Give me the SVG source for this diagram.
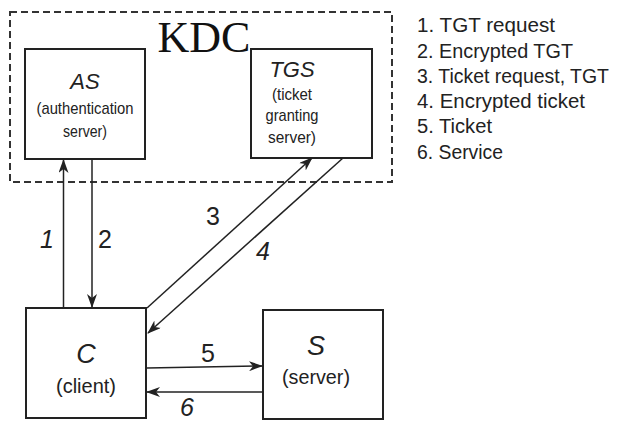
<svg xmlns="http://www.w3.org/2000/svg" width="617" height="432" viewBox="0 0 617 432">
  <style>
    .box { fill: #fff; stroke: #222; stroke-width: 2; }
    .kdc { fill: none; stroke: #333; stroke-width: 2; stroke-dasharray: 7 4; }
    .link { fill: none; stroke: #222; stroke-width: 1.5; marker-end: url(#head); }
    .t { font-family: "Liberation Sans", Arial, sans-serif; fill: #222; }
    .name { font-style: italic; text-anchor: middle; }
    .sub { text-anchor: middle; }
    .num { font-size: 25px; text-anchor: middle; }
    .leg { font-size: 19.5px; }
  </style>
  <defs>
    <marker id="head" viewBox="0 0 14 10" refX="13" refY="5" markerWidth="14" markerHeight="10" markerUnits="userSpaceOnUse" orient="auto">
      <path d="M0,0 L14,5 L0,10 L4,5 Z" fill="#222"/>
    </marker>
  </defs>

  <!-- Key distribution centre boundary -->
  <g id="kdc">
    <rect class="kdc" x="10" y="12" width="382" height="170"/>
    <text x="204" y="52" font-family="Liberation Serif, Times New Roman, serif" font-size="44" text-anchor="middle" fill="#111">KDC</text>
  </g>

  <g id="as">
    <rect class="box" x="25" y="49" width="120" height="110"/>
    <text class="t name" x="85" y="89" font-size="22">AS</text>
    <text class="t sub" x="85" y="114" font-size="17" textLength="97" lengthAdjust="spacingAndGlyphs">(authentication</text>
    <text class="t sub" x="85" y="137" font-size="17" textLength="44" lengthAdjust="spacingAndGlyphs">server)</text>
  </g>

  <g id="tgs">
    <rect class="box" x="251" y="49" width="121" height="109"/>
    <text class="t name" x="292" y="77" font-size="22">TGS</text>
    <text class="t sub" x="292" y="100" font-size="17" textLength="40" lengthAdjust="spacingAndGlyphs">(ticket</text>
    <text class="t sub" x="292" y="121" font-size="17" textLength="53" lengthAdjust="spacingAndGlyphs">granting</text>
    <text class="t sub" x="292" y="143" font-size="17" textLength="48" lengthAdjust="spacingAndGlyphs">server)</text>
  </g>

  <g id="client">
    <rect class="box" x="26" y="308" width="120" height="110"/>
    <text class="t name" x="86" y="363" font-size="27">C</text>
    <text class="t sub" x="86" y="393" font-size="21" textLength="60" lengthAdjust="spacingAndGlyphs">(client)</text>
  </g>

  <g id="server">
    <rect class="box" x="263" y="310" width="120" height="109"/>
    <text class="t name" x="316" y="355" font-size="27">S</text>
    <text class="t sub" x="316" y="384" font-size="21" textLength="68" lengthAdjust="spacingAndGlyphs">(server)</text>
  </g>

  <!-- Message flows -->
  <g id="connectors">
    <line class="link" x1="63.5" y1="308" x2="63.5" y2="160"/>
    <line class="link" x1="92" y1="159" x2="92" y2="307"/>
    <line class="link" x1="147" y1="308" x2="312" y2="158"/>
    <line class="link" x1="343" y1="158" x2="148" y2="333"/>
    <line class="link" x1="147" y1="368" x2="262" y2="366"/>
    <line class="link" x1="263" y1="392" x2="147" y2="392"/>
  </g>

  <g id="flow-labels">
    <text class="t num" x="47" y="248" font-style="italic">1</text>
    <text class="t num" x="105" y="248">2</text>
    <text class="t num" x="213" y="225">3</text>
    <text class="t num" x="263" y="260" font-style="italic">4</text>
    <text class="t num" x="208" y="362">5</text>
    <text class="t num" x="187" y="416" font-style="italic">6</text>
  </g>

  <g id="legend" class="t leg">
    <text x="417" y="32" textLength="138" lengthAdjust="spacingAndGlyphs">1. TGT  request</text>
    <text x="417" y="58" textLength="156" lengthAdjust="spacingAndGlyphs">2. Encrypted TGT</text>
    <text x="417" y="83" textLength="192" lengthAdjust="spacingAndGlyphs">3. Ticket request, TGT</text>
    <text x="417" y="108" textLength="168" lengthAdjust="spacingAndGlyphs">4. Encrypted  ticket</text>
    <text x="417" y="133" textLength="75" lengthAdjust="spacingAndGlyphs">5. Ticket</text>
    <text x="417" y="159" textLength="86" lengthAdjust="spacingAndGlyphs">6. Service</text>
  </g>
</svg>
